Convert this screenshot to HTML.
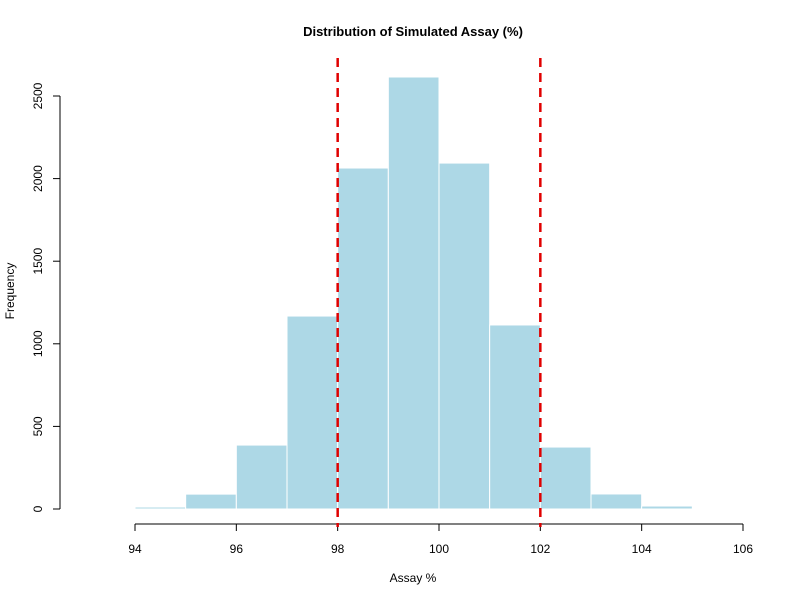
<!DOCTYPE html>
<html><head><meta charset="utf-8"><style>body{margin:0;background:#fff}svg{display:block;font-family:"Liberation Sans",Arial,sans-serif}</style></head>
<body>
<svg id="chart" width="800" height="600" viewBox="0 0 800 600">
<rect width="800" height="600" fill="#fff"/>
<text x="413" y="36" text-anchor="middle" font-size="13" font-weight="bold">Distribution of Simulated Assay (%)</text>
<text x="413" y="582" text-anchor="middle" font-size="12">Assay %</text>
<text transform="translate(14,291) rotate(-90)" text-anchor="middle" font-size="12">Frequency</text>
<g id="bars"></g><g id="xaxis"></g><g id="yaxis"></g><g id="refs"></g>
</svg>
<script>
const binStarts=[94,95,96,97,98,99,100,101,102,103,104];
const counts=[12,90,387,1168,2064,2615,2094,1114,375,91,18];
const xTicks=[94,96,98,100,102,104,106];
const yTicks=[0,500,1000,1500,2000,2500];
const refLines=[98,102];
const binWidth=1;
const NS="http://www.w3.org/2000/svg";
const xs=v=>135+(v-94)*(743-135)/12;
const ys=v=>509-v*(509-96)/2500;
function mk(t,a,p){const e=document.createElementNS(NS,t);for(const k in a)e.setAttribute(k,a[k]);p.appendChild(e);return e;}
const bars=document.getElementById('bars');
binStarts.forEach((b,i)=>{const r=mk('rect',{x:xs(b),y:ys(counts[i]),width:xs(b+binWidth)-xs(b),height:ys(0)-ys(counts[i]),fill:'#ADD8E6',stroke:'#fff','stroke-width':1},bars);

});
const xa=document.getElementById('xaxis');


mk('line',{x1:xs(xTicks[0]),x2:xs(xTicks[xTicks.length-1]),y1:524,y2:524,stroke:'#000'},xa);
xTicks.forEach(t=>{mk('line',{x1:xs(t),x2:xs(t),y1:524,y2:531,stroke:'#000'},xa);
const l=mk('text',{x:xs(t),y:553,'text-anchor':'middle','font-size':12},xa);l.textContent=t;

});
const ya=document.getElementById('yaxis');


mk('line',{x1:60,x2:60,y1:ys(yTicks[0]),y2:ys(yTicks[yTicks.length-1]),stroke:'#000'},ya);
yTicks.forEach(t=>{mk('line',{x1:53,x2:60,y1:ys(t),y2:ys(t),stroke:'#000'},ya);
const l=mk('text',{transform:`translate(42,${ys(t)}) rotate(-90)`,'text-anchor':'middle','font-size':12},ya);l.textContent=t;

});
const rf=document.getElementById('refs');
refLines.forEach(v=>{const l=mk('line',{x1:xs(v),x2:xs(v),y1:58,y2:527,stroke:'#E00000','stroke-width':2.5,'stroke-dasharray':'9,6'},rf);

});
</script>
</body></html>
